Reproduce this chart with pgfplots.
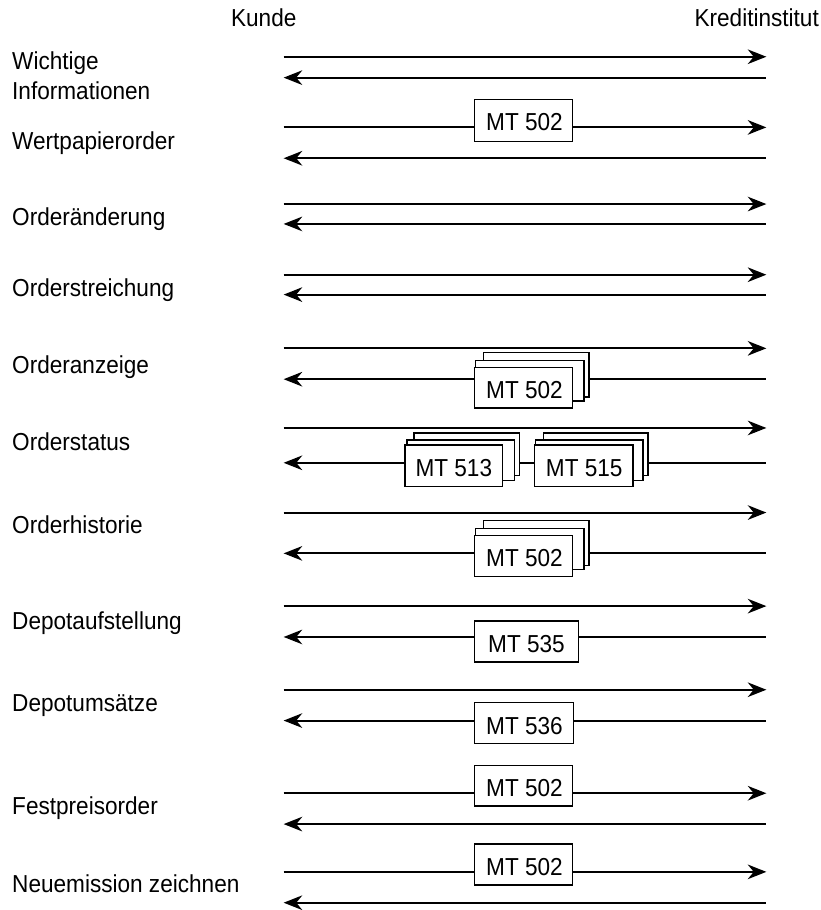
\documentclass[border=0pt]{standalone}
\usepackage{pgfplots}
\pgfplotsset{compat=1.18}
\usepackage{fontspec}
\setmainfont{Liberation Sans}[FakeStretch=0.92]
\usetikzlibrary{arrows.meta}
\tikzset{
  rarr/.style={line width=1.5pt,-{Stealth[length=14pt,width=11pt,inset=4.5pt]}},
  larr/.style={line width=1.5pt,{Stealth[length=14pt,width=11pt,inset=4.5pt]}-},
  bx/.style={draw=black,fill=white,line width=1.1pt},
  lbl/.style={font=\fontsize{18.5pt}{22pt}\selectfont,inner sep=0pt}
}
\begin{document}
\begin{tikzpicture}
\begin{axis}[scale only axis, width=618pt, height=682.5pt,
  xmin=0, xmax=824, ymin=0, ymax=910, y dir=reverse,
  axis lines=none, clip=false]
\addplot[draw=none] coordinates {(0,0) (824,910)};
% right arrows (Kunde -> Kreditinstitut)
\addplot[rarr] coordinates {(285,57) (770,57)};
\addplot[rarr] coordinates {(285,128) (770,128)};
\addplot[rarr] coordinates {(285,205) (770,205)};
\addplot[rarr] coordinates {(285,276) (770,276)};
\addplot[rarr] coordinates {(285,350) (770,350)};
\addplot[rarr] coordinates {(285,430) (770,430)};
\addplot[rarr] coordinates {(285,515) (770,515)};
\addplot[rarr] coordinates {(285,609) (770,609)};
\addplot[rarr] coordinates {(285,693) (770,693)};
\addplot[rarr] coordinates {(285,797) (770,797)};
\addplot[rarr] coordinates {(285,876) (770,876)};
% left arrows (Kreditinstitut -> Kunde)
\addplot[larr] coordinates {(285,78) (770,78)};
\addplot[larr] coordinates {(285,159) (770,159)};
\addplot[larr] coordinates {(285,225) (770,225)};
\addplot[larr] coordinates {(285,296) (770,296)};
\addplot[larr] coordinates {(285,381) (770,381)};
\addplot[larr] coordinates {(285,465) (770,465)};
\addplot[larr] coordinates {(285,556) (770,556)};
\addplot[larr] coordinates {(285,640) (770,640)};
\addplot[larr] coordinates {(285,724) (770,724)};
\addplot[larr] coordinates {(285,828) (770,828)};
\addplot[larr] coordinates {(285,907) (770,907)};
% single boxes
\addplot[bx] coordinates {(477,100) (575,100) (575,142) (477,142)} -- cycle;
\addplot[bx] coordinates {(477,624) (581,624) (581,665) (477,665)} -- cycle;
\addplot[bx] coordinates {(477,706) (576,706) (576,747) (477,747)} -- cycle;
\addplot[bx] coordinates {(477,769) (575,769) (575,810) (477,810)} -- cycle;
\addplot[bx] coordinates {(477,848) (575,848) (575,889) (477,889)} -- cycle;
% stacked: Orderanzeige
\addplot[bx] coordinates {(486,354) (592,354) (592,399) (486,399)} -- cycle;
\addplot[bx] coordinates {(478,362) (587,362) (587,403) (478,403)} -- cycle;
\addplot[bx] coordinates {(477,369) (575,369) (575,410) (477,410)} -- cycle;
% stacked: Orderstatus MT 513
\addplot[bx] coordinates {(416,435) (522,435) (522,478) (416,478)} -- cycle;
\addplot[bx] coordinates {(409,442) (517,442) (517,483) (409,483)} -- cycle;
\addplot[bx] coordinates {(407,447) (505,447) (505,489) (407,489)} -- cycle;
% stacked: Orderstatus MT 515
\addplot[bx] coordinates {(546,435) (651,435) (651,478) (546,478)} -- cycle;
\addplot[bx] coordinates {(538,442) (646,442) (646,483) (538,483)} -- cycle;
\addplot[bx] coordinates {(537,447) (636,447) (636,489) (537,489)} -- cycle;
% stacked: Orderhistorie
\addplot[bx] coordinates {(486,523) (592,523) (592,568) (486,568)} -- cycle;
\addplot[bx] coordinates {(478,531) (587,531) (587,572) (478,572)} -- cycle;
\addplot[bx] coordinates {(477,538) (575,538) (575,579) (477,579)} -- cycle;
% box texts
\node[lbl] at (axis cs:527,123) {MT 502};
\node[lbl] at (axis cs:529,647) {MT 535};
\node[lbl] at (axis cs:527,729) {MT 536};
\node[lbl] at (axis cs:527,792) {MT 502};
\node[lbl] at (axis cs:527,871) {MT 502};
\node[lbl] at (axis cs:527,392) {MT 502};
\node[lbl] at (axis cs:456,470) {MT 513};
\node[lbl] at (axis cs:587,470) {MT 515};
\node[lbl] at (axis cs:527,561) {MT 502};
% headers
\node[lbl,anchor=base] at (axis cs:265,27) {Kunde};
\node[lbl,anchor=base east] at (axis cs:823,27) {Kreditinstitut};
% row labels
\node[lbl,anchor=base west] at (axis cs:12,70) {Wichtige};
\node[lbl,anchor=base west] at (axis cs:12,100) {Informationen};
\node[lbl,anchor=base west] at (axis cs:12,150) {Wertpapierorder};
\node[lbl,anchor=base west] at (axis cs:12,227) {Orderänderung};
\node[lbl,anchor=base west] at (axis cs:12,298) {Orderstreichung};
\node[lbl,anchor=base west] at (axis cs:12,375) {Orderanzeige};
\node[lbl,anchor=base west] at (axis cs:12,453) {Orderstatus};
\node[lbl,anchor=base west] at (axis cs:12,536) {Orderhistorie};
\node[lbl,anchor=base west] at (axis cs:12,632) {Depotaufstellung};
\node[lbl,anchor=base west] at (axis cs:12,715) {Depotumsätze};
\node[lbl,anchor=base west] at (axis cs:12,818) {Festpreisorder};
\node[lbl,anchor=base west] at (axis cs:12,897) {Neuemission zeichnen};
\end{axis}
\end{tikzpicture}
\end{document}
